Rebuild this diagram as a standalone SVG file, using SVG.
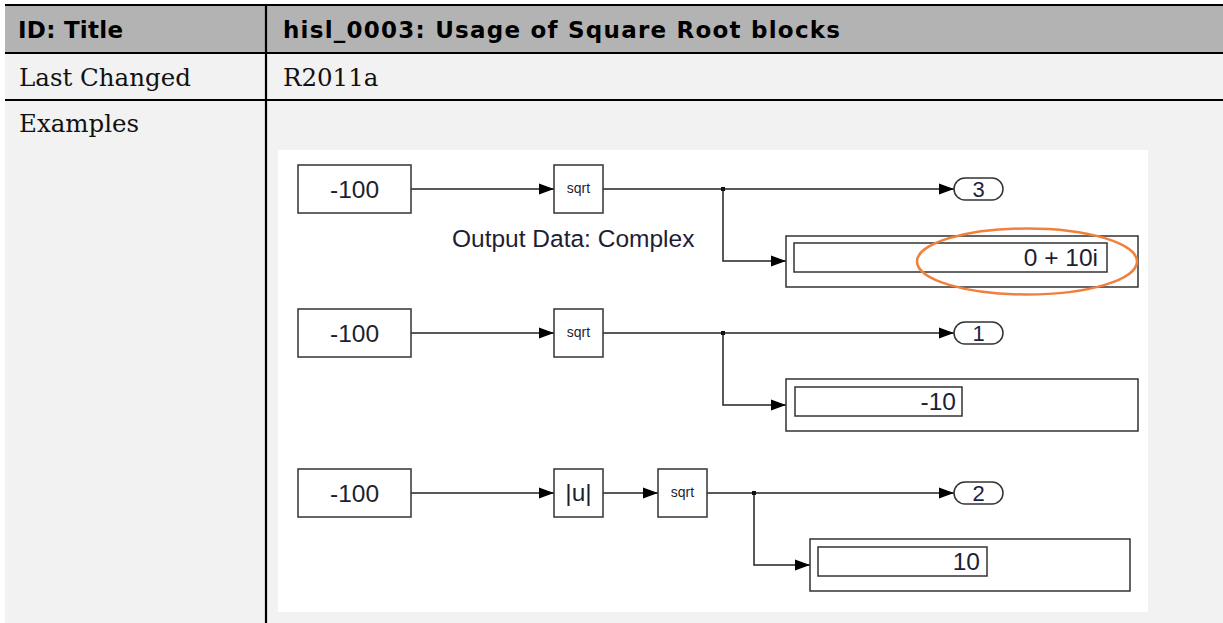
<svg xmlns="http://www.w3.org/2000/svg" width="1223" height="623" viewBox="0 0 1223 623">
<style>
.hdr{fill:#b3b3b3}
.cell{fill:#f2f2f2}
.rule{stroke:#000;stroke-width:2.2;fill:none}
.ht{font-family:"DejaVu Sans",sans-serif;font-weight:bold;font-size:23px;fill:#000}
.bt{font-family:"DejaVu Serif","Liberation Serif",serif;font-size:24.5px;fill:#111}
.blk{fill:#fff;stroke:#333;stroke-width:1.5}
.wire{fill:none;stroke:#222;stroke-width:1.5}
.t24{font-family:"Liberation Sans",Arial,sans-serif;font-size:24.5px;fill:#1e1e32}
.t22{font-family:"Liberation Sans",Arial,sans-serif;font-size:22px;fill:#1e1e40}
.t14{font-family:"Liberation Sans",Arial,sans-serif;font-size:14px;fill:#1e1e32}
.mid{text-anchor:middle}
.end{text-anchor:end}
.dot{fill:#111}
</style>
<defs>
<marker id="arr" markerUnits="userSpaceOnUse" markerWidth="15" markerHeight="12" refX="15" refY="6" orient="auto">
<path d="M0,0.5 L15,6 L0,11.5 z" fill="#000"/>
</marker>
</defs>

<g id="table">
<rect class="hdr" x="5" y="5" width="1218" height="48"/>
<rect class="cell" x="5" y="53" width="1218" height="570"/>
<line class="rule" x1="5" y1="5" x2="1223" y2="5"/>
<line class="rule" x1="5" y1="53" x2="1223" y2="53"/>
<line class="rule" x1="5" y1="100" x2="1223" y2="100"/>
<line class="rule" x1="266" y1="5" x2="266" y2="623"/>
<text class="ht" x="18" y="38" textLength="105" lengthAdjust="spacing">ID: Title</text>
<text class="ht" x="283" y="38" textLength="557" lengthAdjust="spacing">hisl_0003: Usage of Square Root blocks</text>
<text class="bt" x="19" y="86">Last Changed</text>
<text class="bt" x="283" y="86">R2011a</text>
<text class="bt" x="19" y="132">Examples</text>
</g>

<rect id="panel" x="278" y="150" width="870" height="462" fill="#fff"/>

<g id="connectors">
<path class="wire" d="M411,189 H554" marker-end="url(#arr)"/>
<path class="wire" d="M603,189 H954" marker-end="url(#arr)"/>
<path class="wire" d="M723,189 V261 H786" marker-end="url(#arr)"/>
<path class="wire" d="M411,333 H554" marker-end="url(#arr)"/>
<path class="wire" d="M603,333 H954" marker-end="url(#arr)"/>
<path class="wire" d="M723,333 V405 H786" marker-end="url(#arr)"/>
<path class="wire" d="M411,493 H554" marker-end="url(#arr)"/>
<path class="wire" d="M603,493 H658" marker-end="url(#arr)"/>
<path class="wire" d="M707,493 H954" marker-end="url(#arr)"/>
<path class="wire" d="M754,493 V565 H810" marker-end="url(#arr)"/>
<rect class="dot" x="721" y="187" width="4" height="4"/>
<rect class="dot" x="721" y="331" width="4" height="4"/>
<rect class="dot" x="752" y="491" width="4" height="4"/>
</g>

<g id="const1"><rect class="blk" x="298" y="165" width="113" height="48"/><text class="t24 mid" x="354.5" y="198">-100</text></g>
<g id="sqrt1"><rect class="blk" x="554" y="165" width="49" height="48"/><text class="t14 mid" x="578.5" y="193">sqrt</text></g>
<text id="label1" class="t24" x="452" y="247">Output Data: Complex</text>
<g id="out3"><rect class="blk" x="954" y="178" width="49" height="22" rx="11"/><text class="t22 mid" x="978.5" y="197">3</text></g>
<g id="display1"><rect class="blk" x="786" y="236" width="352" height="51"/><rect class="blk" x="794" y="243" width="313" height="29"/><text class="t24 end" x="1098" y="266">0 + 10i</text></g>
<ellipse id="highlight" cx="1027" cy="261.5" rx="110" ry="33" fill="none" stroke="#f0803c" stroke-width="2.5"/>

<g id="const2"><rect class="blk" x="298" y="309" width="113" height="48"/><text class="t24 mid" x="354.5" y="342">-100</text></g>
<g id="sqrt2"><rect class="blk" x="554" y="309" width="49" height="48"/><text class="t14 mid" x="578.5" y="337">sqrt</text></g>
<g id="out1"><rect class="blk" x="954" y="322" width="49" height="22" rx="11"/><text class="t22 mid" x="978.5" y="341">1</text></g>
<g id="display2"><rect class="blk" x="786" y="379" width="352" height="52"/><rect class="blk" x="795" y="387" width="167" height="29"/><text class="t24 end" x="956" y="410">-10</text></g>

<g id="const3"><rect class="blk" x="298" y="469" width="113" height="48"/><text class="t24 mid" x="354.5" y="502">-100</text></g>
<g id="abs3"><rect class="blk" x="554" y="469" width="49" height="48"/><text class="t24 mid" x="578.5" y="501">|u|</text></g>
<g id="sqrt3"><rect class="blk" x="658" y="469" width="49" height="48"/><text class="t14 mid" x="682.5" y="497">sqrt</text></g>
<g id="out2"><rect class="blk" x="954" y="482" width="49" height="22" rx="11"/><text class="t22 mid" x="978.5" y="501">2</text></g>
<g id="display3"><rect class="blk" x="810" y="539" width="320" height="52"/><rect class="blk" x="818" y="547" width="169" height="29"/><text class="t24 end" x="980" y="570">10</text></g>
</svg>
